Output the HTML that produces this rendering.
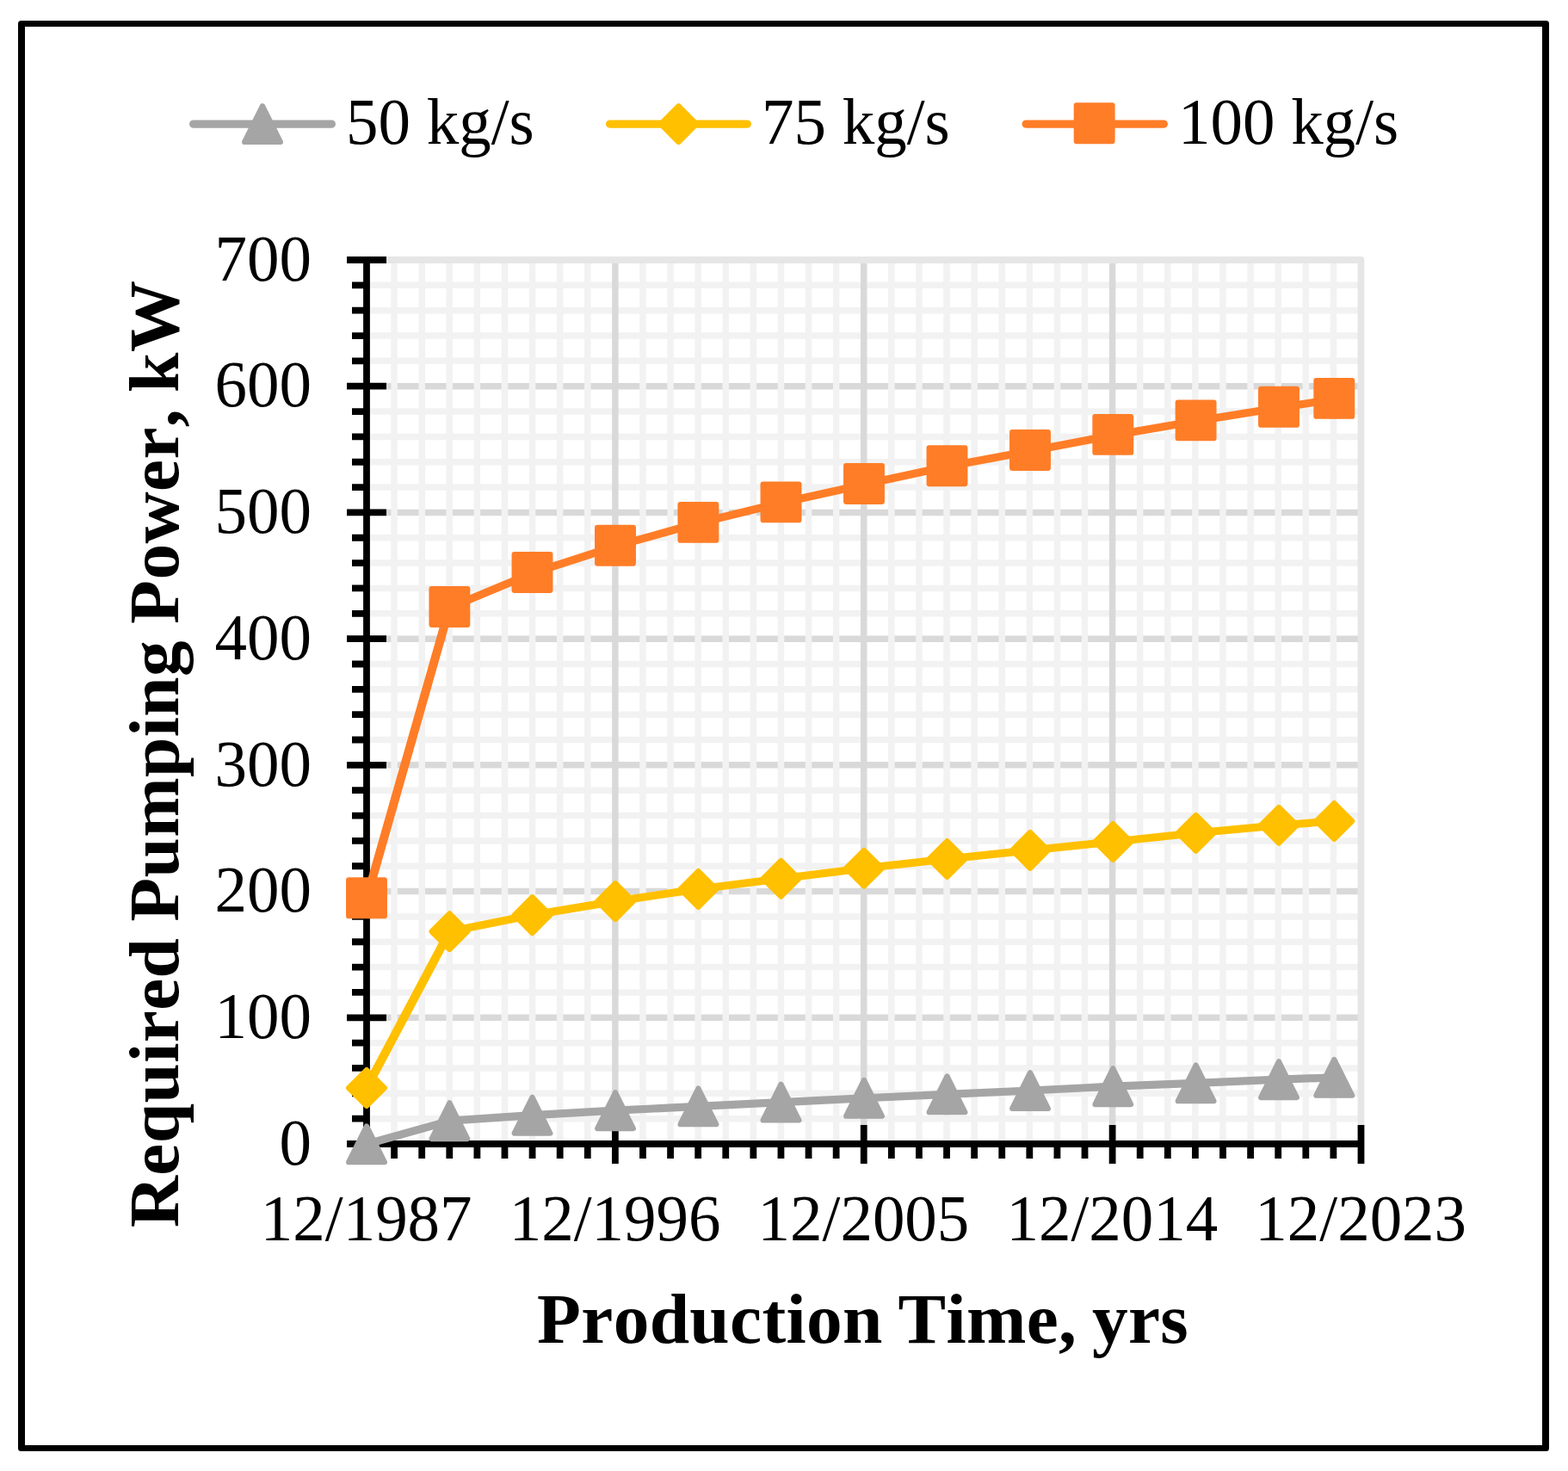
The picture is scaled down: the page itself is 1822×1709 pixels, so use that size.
<!DOCTYPE html>
<html lang="en"><head><meta charset="utf-8"><title>Required Pumping Power vs Production Time</title>
<style>
html,body{margin:0;padding:0;background:#fff;}
body{width:1822px;height:1709px;overflow:hidden;}
svg{display:block;}
text{font-family:"Liberation Serif",serif;fill:#000;font-kerning:none;}
.t{font-size:75px;}
.b{font-size:83.33px;font-weight:bold;letter-spacing:0.35px;word-spacing:-3.4px;}
</style></head><body>
<svg width="1822" height="1709" viewBox="0 0 1822 1709">
<rect x="0" y="0" width="1822" height="1709" fill="#fff"/>
<g id="frame">
<rect x="21" y="24" width="1779" height="1662" rx="3.5" fill="#000"/>
<rect x="29" y="31" width="1763" height="1648" fill="#fff"/>
</g>
<g id="grid" fill="none" stroke-width="7.5">
<path stroke="#d9d9d9" d="M449 1182.29H1581.5M449 1035.57H1581.5M449 888.86H1581.5M449 742.14H1581.5M449 595.43H1581.5M449 448.71H1581.5"/>
<path stroke="#f2f2f2" d="M430 1299.66H1581.5M430 1270.31H1581.5M430 1240.97H1581.5M430 1211.63H1581.5M430 1152.94H1581.5M430 1123.6H1581.5M430 1094.26H1581.5M430 1064.91H1581.5M430 1006.23H1581.5M430 976.89H1581.5M430 947.54H1581.5M430 918.2H1581.5M430 859.51H1581.5M430 830.17H1581.5M430 800.83H1581.5M430 771.49H1581.5M430 712.8H1581.5M430 683.46H1581.5M430 654.11H1581.5M430 624.77H1581.5M430 566.09H1581.5M430 536.74H1581.5M430 507.4H1581.5M430 478.06H1581.5M430 419.37H1581.5M430 390.03H1581.5M430 360.69H1581.5M430 331.34H1581.5"/>
<path stroke="#f2f2f2" d="M458.1 302V1325M490.19 302V1325M522.29 302V1325M554.39 302V1325M586.49 302V1325M618.58 302V1325M650.68 302V1325M682.78 302V1325M746.97 302V1325M779.07 302V1325M811.17 302V1325M843.26 302V1325M875.36 302V1325M907.46 302V1325M939.56 302V1325M971.65 302V1325M1035.85 302V1325M1067.94 302V1325M1100.04 302V1325M1132.14 302V1325M1164.24 302V1325M1196.33 302V1325M1228.43 302V1325M1260.53 302V1325M1324.72 302V1325M1356.82 302V1325M1388.92 302V1325M1421.01 302V1325M1453.11 302V1325M1485.21 302V1325M1517.31 302V1325M1549.4 302V1325"/>
<path stroke="#d9d9d9" d="M714.88 302V1307M1003.75 302V1307M1292.62 302V1307"/>
<path stroke="#e6e6e6" stroke-width="7.8" stroke-linejoin="round" d="M449 302H1581.5V1307"/>
</g>
<g id="axes" fill="none" stroke="#000" stroke-width="7.8">
<path d="M426 298V1333"/>
<path d="M422 1329H1584.5"/>
<path d="M403 1329H449M403 1182.29H449M403 1035.57H449M403 888.86H449M403 742.14H449M403 595.43H449M403 448.71H449M403 302H449M409 1299.66H423M409 1270.31H423M409 1240.97H423M409 1211.63H423M409 1152.94H423M409 1123.6H423M409 1094.26H423M409 1064.91H423M409 1006.23H423M409 976.89H423M409 947.54H423M409 918.2H423M409 859.51H423M409 830.17H423M409 800.83H423M409 771.49H423M409 712.8H423M409 683.46H423M409 654.11H423M409 624.77H423M409 566.09H423M409 536.74H423M409 507.4H423M409 478.06H423M409 419.37H423M409 390.03H423M409 360.69H423M409 331.34H423M426 1307V1352M714.88 1307V1352M1003.75 1307V1352M1292.62 1307V1352M1581.5 1307V1352M458.1 1332V1346M490.19 1332V1346M522.29 1332V1346M554.39 1332V1346M586.49 1332V1346M618.58 1332V1346M650.68 1332V1346M682.78 1332V1346M746.97 1332V1346M779.07 1332V1346M811.17 1332V1346M843.26 1332V1346M875.36 1332V1346M907.46 1332V1346M939.56 1332V1346M971.65 1332V1346M1035.85 1332V1346M1067.94 1332V1346M1100.04 1332V1346M1132.14 1332V1346M1164.24 1332V1346M1196.33 1332V1346M1228.43 1332V1346M1260.53 1332V1346M1324.72 1332V1346M1356.82 1332V1346M1388.92 1332V1346M1421.01 1332V1346M1453.11 1332V1346M1485.21 1332V1346M1517.31 1332V1346M1549.4 1332V1346"/>
</g>
<g id="s50">
<polyline points="426,1329.3 522.4,1302.2 618.5,1295.7 715,1290.2 811.4,1285.4 907.5,1280.6 1004,1275.8 1100.5,1271.3 1197,1267 1293.3,1262.2 1389.6,1258.4 1486,1254.2 1550.3,1251.8" fill="none" stroke="#a5a5a5" stroke-width="9.2" stroke-linejoin="round" stroke-linecap="round"/>
<path d="M426 1308.47L446.83 1350.13L405.17 1350.13Z" fill="#a5a5a5" stroke="#a5a5a5" stroke-width="6.25" stroke-linejoin="round"/>
<path d="M522.4 1281.37L543.23 1323.03L501.57 1323.03Z" fill="#a5a5a5" stroke="#a5a5a5" stroke-width="6.25" stroke-linejoin="round"/>
<path d="M618.5 1274.87L639.33 1316.53L597.67 1316.53Z" fill="#a5a5a5" stroke="#a5a5a5" stroke-width="6.25" stroke-linejoin="round"/>
<path d="M715 1269.37L735.83 1311.03L694.17 1311.03Z" fill="#a5a5a5" stroke="#a5a5a5" stroke-width="6.25" stroke-linejoin="round"/>
<path d="M811.4 1264.57L832.23 1306.23L790.57 1306.23Z" fill="#a5a5a5" stroke="#a5a5a5" stroke-width="6.25" stroke-linejoin="round"/>
<path d="M907.5 1259.77L928.33 1301.43L886.67 1301.43Z" fill="#a5a5a5" stroke="#a5a5a5" stroke-width="6.25" stroke-linejoin="round"/>
<path d="M1004 1254.97L1024.83 1296.63L983.17 1296.63Z" fill="#a5a5a5" stroke="#a5a5a5" stroke-width="6.25" stroke-linejoin="round"/>
<path d="M1100.5 1250.47L1121.33 1292.13L1079.67 1292.13Z" fill="#a5a5a5" stroke="#a5a5a5" stroke-width="6.25" stroke-linejoin="round"/>
<path d="M1197 1246.17L1217.83 1287.83L1176.17 1287.83Z" fill="#a5a5a5" stroke="#a5a5a5" stroke-width="6.25" stroke-linejoin="round"/>
<path d="M1293.3 1241.37L1314.13 1283.03L1272.47 1283.03Z" fill="#a5a5a5" stroke="#a5a5a5" stroke-width="6.25" stroke-linejoin="round"/>
<path d="M1389.6 1237.57L1410.43 1279.23L1368.77 1279.23Z" fill="#a5a5a5" stroke="#a5a5a5" stroke-width="6.25" stroke-linejoin="round"/>
<path d="M1486 1233.37L1506.83 1275.03L1465.17 1275.03Z" fill="#a5a5a5" stroke="#a5a5a5" stroke-width="6.25" stroke-linejoin="round"/>
<path d="M1550.3 1230.97L1571.13 1272.63L1529.47 1272.63Z" fill="#a5a5a5" stroke="#a5a5a5" stroke-width="6.25" stroke-linejoin="round"/>
</g>
<g id="s75">
<polyline points="426,1264 522.4,1082.2 618.5,1063.1 715,1047.1 811.4,1033 907.5,1020.8 1004,1008.8 1100.5,998 1197,987.9 1293.3,978 1389.6,967.8 1486,958.8 1550.3,954" fill="none" stroke="#ffc000" stroke-width="9.2" stroke-linejoin="round" stroke-linecap="round"/>
<path d="M426 1264L522.4 1082.2" fill="none" stroke="#ffc000" stroke-width="10" stroke-linecap="round"/>
<path d="M426 1243.17L446.83 1264L426 1284.83L405.17 1264Z" fill="#ffc000" stroke="#ffc000" stroke-width="6.25" stroke-linejoin="round"/>
<path d="M522.4 1061.37L543.23 1082.2L522.4 1103.03L501.57 1082.2Z" fill="#ffc000" stroke="#ffc000" stroke-width="6.25" stroke-linejoin="round"/>
<path d="M618.5 1042.27L639.33 1063.1L618.5 1083.93L597.67 1063.1Z" fill="#ffc000" stroke="#ffc000" stroke-width="6.25" stroke-linejoin="round"/>
<path d="M715 1026.27L735.83 1047.1L715 1067.93L694.17 1047.1Z" fill="#ffc000" stroke="#ffc000" stroke-width="6.25" stroke-linejoin="round"/>
<path d="M811.4 1012.17L832.23 1033L811.4 1053.83L790.57 1033Z" fill="#ffc000" stroke="#ffc000" stroke-width="6.25" stroke-linejoin="round"/>
<path d="M907.5 999.97L928.33 1020.8L907.5 1041.63L886.67 1020.8Z" fill="#ffc000" stroke="#ffc000" stroke-width="6.25" stroke-linejoin="round"/>
<path d="M1004 987.97L1024.83 1008.8L1004 1029.63L983.17 1008.8Z" fill="#ffc000" stroke="#ffc000" stroke-width="6.25" stroke-linejoin="round"/>
<path d="M1100.5 977.17L1121.33 998L1100.5 1018.83L1079.67 998Z" fill="#ffc000" stroke="#ffc000" stroke-width="6.25" stroke-linejoin="round"/>
<path d="M1197 967.07L1217.83 987.9L1197 1008.73L1176.17 987.9Z" fill="#ffc000" stroke="#ffc000" stroke-width="6.25" stroke-linejoin="round"/>
<path d="M1293.3 957.17L1314.13 978L1293.3 998.83L1272.47 978Z" fill="#ffc000" stroke="#ffc000" stroke-width="6.25" stroke-linejoin="round"/>
<path d="M1389.6 946.97L1410.43 967.8L1389.6 988.63L1368.77 967.8Z" fill="#ffc000" stroke="#ffc000" stroke-width="6.25" stroke-linejoin="round"/>
<path d="M1486 937.97L1506.83 958.8L1486 979.63L1465.17 958.8Z" fill="#ffc000" stroke="#ffc000" stroke-width="6.25" stroke-linejoin="round"/>
<path d="M1550.3 933.17L1571.13 954L1550.3 974.83L1529.47 954Z" fill="#ffc000" stroke="#ffc000" stroke-width="6.25" stroke-linejoin="round"/>
</g>
<g id="s100">
<polyline points="426,1044.2 522.4,705.9 618.5,665.9 715,634.6 811.4,607.8 907.5,584.3 1004,562.9 1100.5,542.1 1197,523.9 1293.3,505.8 1389.6,489.3 1486,473.7 1550.3,463.8" fill="none" stroke="#ff7d27" stroke-width="9.2" stroke-linejoin="round" stroke-linecap="round"/>
<path d="M426 1044.2L522.4 705.9" fill="none" stroke="#ff7d27" stroke-width="10" stroke-linecap="round"/>
<rect x="405.17" y="1022.47" width="41.66" height="41.66" fill="#ff7d27" stroke="#ff7d27" stroke-width="6.25" stroke-linejoin="round"/>
<rect x="501.57" y="684.17" width="41.66" height="41.66" fill="#ff7d27" stroke="#ff7d27" stroke-width="6.25" stroke-linejoin="round"/>
<rect x="597.67" y="644.17" width="41.66" height="41.66" fill="#ff7d27" stroke="#ff7d27" stroke-width="6.25" stroke-linejoin="round"/>
<rect x="694.17" y="612.87" width="41.66" height="41.66" fill="#ff7d27" stroke="#ff7d27" stroke-width="6.25" stroke-linejoin="round"/>
<rect x="790.57" y="586.07" width="41.66" height="41.66" fill="#ff7d27" stroke="#ff7d27" stroke-width="6.25" stroke-linejoin="round"/>
<rect x="886.67" y="562.57" width="41.66" height="41.66" fill="#ff7d27" stroke="#ff7d27" stroke-width="6.25" stroke-linejoin="round"/>
<rect x="983.17" y="541.17" width="41.66" height="41.66" fill="#ff7d27" stroke="#ff7d27" stroke-width="6.25" stroke-linejoin="round"/>
<rect x="1079.67" y="520.37" width="41.66" height="41.66" fill="#ff7d27" stroke="#ff7d27" stroke-width="6.25" stroke-linejoin="round"/>
<rect x="1176.17" y="502.17" width="41.66" height="41.66" fill="#ff7d27" stroke="#ff7d27" stroke-width="6.25" stroke-linejoin="round"/>
<rect x="1272.47" y="484.07" width="41.66" height="41.66" fill="#ff7d27" stroke="#ff7d27" stroke-width="6.25" stroke-linejoin="round"/>
<rect x="1368.77" y="467.57" width="41.66" height="41.66" fill="#ff7d27" stroke="#ff7d27" stroke-width="6.25" stroke-linejoin="round"/>
<rect x="1465.17" y="451.97" width="41.66" height="41.66" fill="#ff7d27" stroke="#ff7d27" stroke-width="6.25" stroke-linejoin="round"/>
<rect x="1529.47" y="442.07" width="41.66" height="41.66" fill="#ff7d27" stroke="#ff7d27" stroke-width="6.25" stroke-linejoin="round"/>
</g>
<g id="legend">
<path d="M224.6 144.1H385.4" fill="none" stroke="#a5a5a5" stroke-width="9.2" stroke-linecap="round"/>
<path d="M305 123.27L325.83 164.93L284.17 164.93Z" fill="#a5a5a5" stroke="#a5a5a5" stroke-width="6.25" stroke-linejoin="round"/>
<text class="t" transform="translate(402 167.2) scale(1 1.02)">50 kg/s</text>
<path d="M708.6 144.1H868.4" fill="none" stroke="#ffc000" stroke-width="9.2" stroke-linecap="round"/>
<path d="M788.5 123.27L809.33 144.1L788.5 164.93L767.67 144.1Z" fill="#ffc000" stroke="#ffc000" stroke-width="6.25" stroke-linejoin="round"/>
<text class="t" transform="translate(885 167.2) scale(1 1.02)">75 kg/s</text>
<path d="M1192.1 144.1H1352.4" fill="none" stroke="#ff7d27" stroke-width="9.2" stroke-linecap="round"/>
<rect x="1250.82" y="122.37" width="41.66" height="41.66" fill="#ff7d27" stroke="#ff7d27" stroke-width="6.25" stroke-linejoin="round"/>
<text class="t" transform="translate(1369 167.2) scale(1 1.02)">100 kg/s</text>
</g>
<g id="ylabels" text-anchor="end">
<text class="t" transform="translate(362.1 1352.7) scale(1 1.02)">0</text>
<text class="t" transform="translate(362.1 1205.99) scale(1 1.02)">100</text>
<text class="t" transform="translate(362.1 1059.27) scale(1 1.02)">200</text>
<text class="t" transform="translate(362.1 912.56) scale(1 1.02)">300</text>
<text class="t" transform="translate(362.1 765.84) scale(1 1.02)">400</text>
<text class="t" transform="translate(362.1 619.13) scale(1 1.02)">500</text>
<text class="t" transform="translate(362.1 472.41) scale(1 1.02)">600</text>
<text class="t" transform="translate(362.1 325.7) scale(1 1.02)">700</text>
</g>
<g id="xlabels" text-anchor="middle">
<text class="t" transform="translate(425.7 1440.8) scale(1 1.02)">12/1987</text>
<text class="t" transform="translate(714.58 1440.8) scale(1 1.02)">12/1996</text>
<text class="t" transform="translate(1003.45 1440.8) scale(1 1.02)">12/2005</text>
<text class="t" transform="translate(1292.33 1440.8) scale(1 1.02)">12/2014</text>
<text class="t" transform="translate(1581.2 1440.8) scale(1 1.02)">12/2023</text>
</g>
<text class="b" text-anchor="middle" x="1002.6" y="1560">Production Time, yrs</text>
<text class="b" text-anchor="middle" style="letter-spacing:0.4px;word-spacing:-2.3px" transform="translate(207.3 875.9) rotate(-90)">Required Pumping Power, kW</text>
</svg>
</body></html>
